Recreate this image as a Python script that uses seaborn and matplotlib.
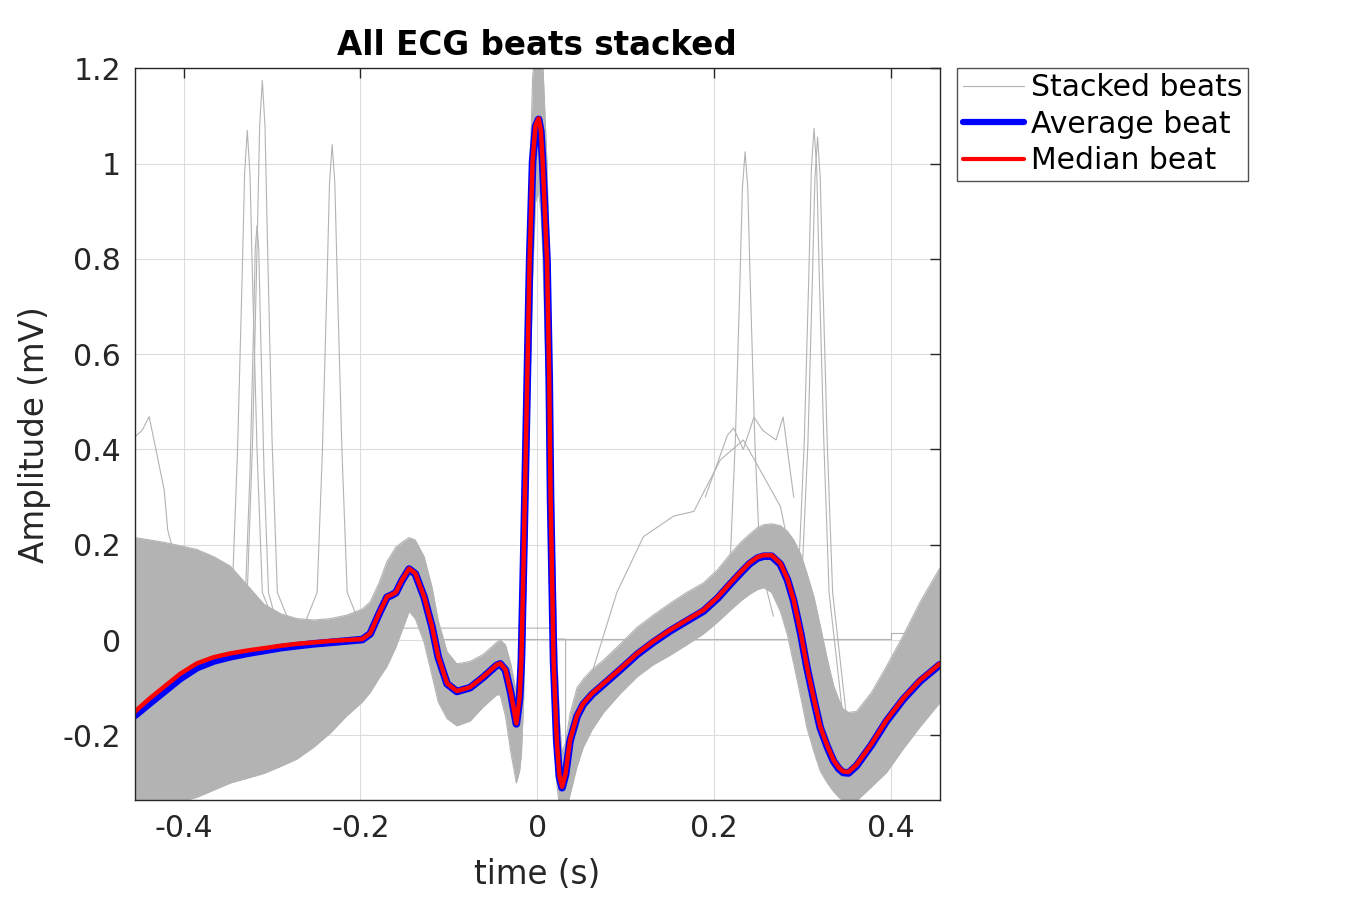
import matplotlib
matplotlib.use("Agg")
import matplotlib.pyplot as plt
from matplotlib.lines import Line2D
import seaborn as sns
import pandas as pd
import numpy as np

# time axis of the beat template (s)
beat_t = [-0.455, -0.438, -0.422, -0.404, -0.385, -0.366, -0.347, -0.328, -0.309, -0.29, -0.272,
          -0.253, -0.234, -0.216, -0.198, -0.189, -0.179, -0.170, -0.165, -0.160, -0.153, -0.145,
          -0.138, -0.128, -0.119, -0.112, -0.102, -0.091, -0.076, -0.061, -0.046, -0.042, -0.036,
          -0.030, -0.0237, -0.020, -0.018, -0.0155, -0.012, -0.0087, -0.0053, -0.002, 0.0015,
          0.004, 0.006, 0.011, 0.0135, 0.015, 0.017, 0.0184, 0.022, 0.025, 0.028, 0.032, 0.037,
          0.045, 0.052, 0.062, 0.075, 0.094, 0.113, 0.131, 0.150, 0.169, 0.188, 0.204, 0.218,
          0.230, 0.240, 0.249, 0.256, 0.265, 0.275, 0.283, 0.290, 0.298, 0.305, 0.313, 0.320,
          0.328, 0.335, 0.341, 0.346, 0.352, 0.361, 0.378, 0.395, 0.414, 0.433, 0.455]

median_beat = [-0.150, -0.122, -0.098, -0.071, -0.049, -0.036, -0.028, -0.022, -0.017, -0.012, -0.008,
               -0.005, -0.002, 0.000, 0.002, 0.014, 0.056, 0.091, 0.095, 0.100, 0.126, 0.150,
               0.140, 0.091, 0.028, -0.035, -0.091, -0.107, -0.099, -0.077, -0.052, -0.049, -0.062,
               -0.110, -0.175, -0.120, -0.042, 0.168, 0.490, 0.797, 1.007, 1.080, 1.095,
               1.070, 1.007, 0.797, 0.550, 0.300, 0.100, -0.042, -0.210, -0.285, -0.308, -0.280, -0.210,
               -0.158, -0.133, -0.112, -0.091, -0.060, -0.028, -0.003, 0.021, 0.042, 0.063, 0.090, 0.119,
               0.143, 0.162, 0.174, 0.178, 0.178, 0.161, 0.128, 0.084, 0.015, -0.056, -0.125, -0.182,
               -0.222, -0.252, -0.268, -0.276, -0.277, -0.262, -0.218, -0.168, -0.122, -0.084, -0.050]

average_beat = [-0.158, -0.132, -0.108, -0.081, -0.058, -0.044, -0.035, -0.028, -0.022, -0.016, -0.012,
                -0.008, -0.005, -0.002, 0.001, 0.013, 0.055, 0.090, 0.094, 0.099, 0.125, 0.149,
                0.139, 0.090, 0.027, -0.036, -0.092, -0.108, -0.100, -0.078, -0.053, -0.050, -0.063,
                -0.111, -0.176, -0.121, -0.043, 0.167, 0.488, 0.795, 1.005, 1.078, 1.093,
                1.068, 1.005, 0.795, 0.548, 0.298, 0.098, -0.044, -0.212, -0.287, -0.310, -0.282, -0.212,
                -0.160, -0.135, -0.114, -0.093, -0.062, -0.030, -0.005, 0.019, 0.040, 0.061, 0.088, 0.117,
                0.141, 0.160, 0.172, 0.176, 0.176, 0.159, 0.126, 0.082, 0.013, -0.058, -0.127, -0.184,
                -0.224, -0.254, -0.270, -0.278, -0.279, -0.264, -0.220, -0.170, -0.124, -0.086, -0.052]

# envelope of the dense cloud of stacked beats
band_hi = [0.215, 0.210, 0.205, 0.198, 0.190, 0.175, 0.155, 0.115, 0.075, 0.055, 0.045,
           0.042, 0.045, 0.052, 0.065, 0.080, 0.120, 0.165, 0.180, 0.195, 0.205, 0.215,
           0.210, 0.175, 0.110, 0.040, -0.025, -0.050, -0.045, -0.030, -0.005, 0.000, -0.010,
           -0.050, -0.110, -0.040, 0.080, 0.350, 0.680, 0.960, 1.180, 1.250, 1.250,
           1.250, 1.220, 1.000, 0.800, 0.600, 0.400, 0.240, -0.020, -0.170, -0.235, -0.215, -0.155,
           -0.100, -0.082, -0.062, -0.042, -0.008, 0.027, 0.052, 0.077, 0.100, 0.120, 0.148, 0.180,
           0.205, 0.222, 0.236, 0.242, 0.244, 0.240, 0.228, 0.210, 0.180, 0.140, 0.090, 0.030,
           -0.040, -0.095, -0.125, -0.145, -0.152, -0.150, -0.110, -0.055, 0.010, 0.080, 0.150]

band_lo = [-0.360, -0.355, -0.350, -0.340, -0.330, -0.315, -0.300, -0.290, -0.280, -0.265, -0.250,
           -0.225, -0.195, -0.160, -0.130, -0.110, -0.080, -0.055, -0.035, -0.015, 0.020, 0.060,
           0.045, -0.005, -0.075, -0.130, -0.165, -0.180, -0.170, -0.140, -0.115, -0.115, -0.160,
           -0.235, -0.300, -0.275, -0.240, -0.130, 0.200, 0.500, 0.760, 0.920, 0.940,
           0.900, 0.820, 0.500, 0.250, 0.050, -0.090, -0.180, -0.300, -0.350, -0.360, -0.360, -0.325,
           -0.265, -0.225, -0.188, -0.152, -0.112, -0.077, -0.052, -0.032, -0.010, 0.013, 0.038, 0.062,
           0.082, 0.096, 0.106, 0.110, 0.100, 0.060, 0.010, -0.050, -0.120, -0.185, -0.235, -0.275,
           -0.300, -0.318, -0.330, -0.338, -0.342, -0.338, -0.308, -0.278, -0.228, -0.182, -0.132]

# a few outlier beats that stand out of the cloud
outlier_t = {
    "b1": [-0.36, -0.345, -0.339, -0.334, -0.331, -0.328, -0.325, -0.322, -0.317, -0.311, -0.296],
    "b2": [-0.343, -0.328, -0.322, -0.317, -0.314, -0.311, -0.308, -0.305, -0.300, -0.294, -0.279],
    "b3": [-0.340, -0.330, -0.325, -0.321, -0.319, -0.317, -0.315, -0.313, -0.309, -0.304, -0.294],
    "b4": [-0.264, -0.249, -0.243, -0.238, -0.235, -0.232, -0.229, -0.226, -0.221, -0.215, -0.200],
    "b5": [0.203, 0.218, 0.224, 0.229, 0.232, 0.235, 0.238, 0.241, 0.246, 0.252, 0.267],
    "b6": [0.281, 0.296, 0.302, 0.307, 0.310, 0.313, 0.316, 0.319, 0.324, 0.330, 0.345],
    "b7": [0.285, 0.300, 0.306, 0.311, 0.314, 0.317, 0.320, 0.323, 0.328, 0.334, 0.349],
    "b8": [-0.455, -0.447, -0.439, -0.432, -0.422, -0.418, -0.411, -0.400, -0.385],
    "b9": [0.06, 0.09, 0.12, 0.154, 0.177, 0.207, 0.233, 0.252, 0.275, 0.295, 0.32],
    "b10": [-0.165, 0.015, 0.016, 0.032, 0.032, 0.402],
    "b11": [-0.11, 0.030, 0.030, 0.400, 0.400, 0.455],
    "b12": [0.190, 0.215, 0.222, 0.233, 0.245, 0.255, 0.270, 0.278, 0.290],
}
outlier_v = {
    "b1": [0.03, 0.10, 0.40, 0.75, 0.98, 1.07, 0.98, 0.75, 0.40, 0.10, 0.03],
    "b2": [0.03, 0.10, 0.42, 0.82, 1.08, 1.175, 1.08, 0.82, 0.42, 0.10, 0.03],
    "b3": [0.03, 0.10, 0.35, 0.65, 0.82, 0.87, 0.82, 0.65, 0.35, 0.10, 0.03],
    "b4": [0.03, 0.10, 0.40, 0.74, 0.96, 1.04, 0.96, 0.74, 0.40, 0.10, 0.03],
    "b5": [0.10, 0.16, 0.42, 0.74, 0.95, 1.025, 0.95, 0.74, 0.42, 0.16, 0.05],
    "b6": [0.10, 0.16, 0.42, 0.76, 0.99, 1.074, 0.99, 0.76, 0.42, 0.10, -0.15],
    "b7": [0.10, 0.16, 0.41, 0.75, 0.97, 1.056, 0.97, 0.75, 0.41, 0.10, -0.15],
    "b8": [0.427, 0.44, 0.469, 0.406, 0.315, 0.231, 0.182, 0.15, 0.12],
    "b9": [-0.08, 0.10, 0.217, 0.26, 0.27, 0.378, 0.42, 0.357, 0.28, 0.10, -0.12],
    "b10": [0.025, 0.025, 0.002, 0.002, -0.34, -0.34],
    "b11": [0.002, 0.002, 0.002, 0.002, 0.015, 0.015],
    "b12": [0.30, 0.43, 0.445, 0.40, 0.468, 0.44, 0.42, 0.468, 0.30],
}

x_ticks = [-0.4, -0.2, 0, 0.2, 0.4]
x_labels = ["-0.4", "-0.2", "0", "0.2", "0.4"]
y_ticks = [-0.2, 0, 0.2, 0.4, 0.6, 0.8, 1.0, 1.2]
y_labels = ["-0.2", "0", "0.2", "0.4", "0.6", "0.8", "1", "1.2"]

GRAY = "#b3b3b3"


def main():
    sns.set_style("white")
    plt.rcParams["font.family"] = ["DejaVu Sans"]

    fig = plt.figure(figsize=(13.5, 9), dpi=100)
    ax = fig.add_axes([0.1, 0.111, 0.596, 0.813])

    # dense cloud of beats
    ax.fill_between(beat_t, band_lo, band_hi, color=GRAY, lw=0, zorder=2)
    ax.plot(beat_t, band_hi, color=GRAY, lw=0.8, zorder=2)
    ax.plot(beat_t, band_lo, color=GRAY, lw=0.8, zorder=2)

    rows = []
    for name in outlier_t:
        for t, v in zip(outlier_t[name], outlier_v[name]):
            rows.append({"beat": name, "t": t, "v": v})
    df_out = pd.DataFrame(rows)
    sns.lineplot(data=df_out, x="t", y="v", units="beat", estimator=None, sort=False,
                 color=GRAY, lw=0.8, ax=ax, zorder=2)

    sns.lineplot(x=beat_t, y=average_beat, sort=False, estimator=None,
                 color="blue", lw=5.5, ax=ax, zorder=3)
    sns.lineplot(x=beat_t, y=median_beat, sort=False, estimator=None,
                 color="red", lw=3.2, ax=ax, zorder=4)

    ax.set_xlim(-0.455, 0.455)
    ax.set_ylim(-0.336, 1.2)
    ax.set_xticks(x_ticks)
    ax.set_xticklabels(x_labels)
    ax.set_yticks(y_ticks)
    ax.set_yticklabels(y_labels)
    ax.tick_params(direction="in", length=7, width=1, top=True, right=True,
                   labelsize=21.5, colors="#262626", pad=10)
    ax.grid(True, color="#dcdcdc", lw=0.8, zorder=0)
    ax.set_axisbelow(True)
    for sp in ax.spines.values():
        sp.set_color("#262626")
        sp.set_linewidth(1.0)
        sp.set_zorder(5)

    ax.set_xlabel("time (s)", fontsize=23.5, color="#262626", labelpad=11)
    ax.set_ylabel("Amplitude (mV)", fontsize=23.5, color="#262626", labelpad=8)
    ax.set_title("All ECG beats stacked", fontsize=23.5, fontweight="bold",
                 color="black", pad=10)

    handles = [Line2D([], [], color=GRAY, lw=0.8),
               Line2D([], [], color="blue", lw=4.5),
               Line2D([], [], color="red", lw=3)]
    labels = ["Stacked beats", "Average beat", "Median beat"]
    leg = fig.legend(handles, labels, loc="upper left", bbox_to_anchor=(0.709, 0.925),
                     fontsize=21.5, frameon=True, fancybox=False, edgecolor="#262626",
                     handlelength=2.05, handletextpad=0.22, borderpad=0.2,
                     labelspacing=0.25, borderaxespad=0)
    leg.get_frame().set_linewidth(1.0)
    for txt in leg.get_texts():
        txt.set_color("black")

    fig.savefig("out.png", dpi=100)
    plt.close(fig)


if __name__ == "__main__":
    main()
